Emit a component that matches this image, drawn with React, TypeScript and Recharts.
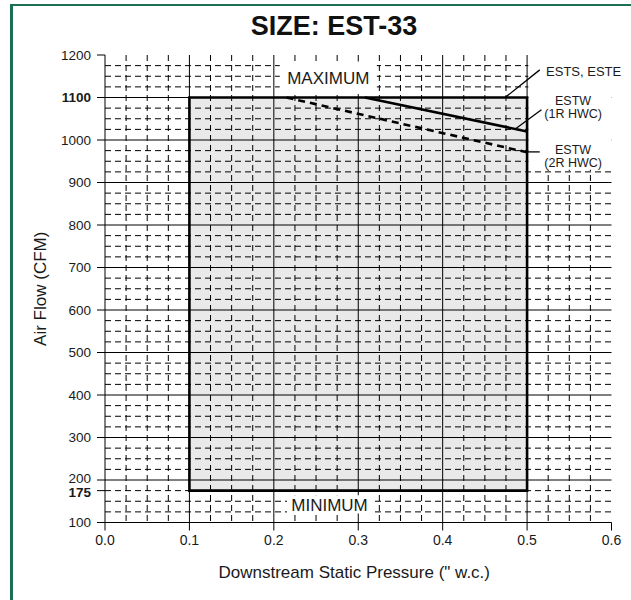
import { LineChart, Line, XAxis, YAxis, CartesianGrid, ReferenceArea, ReferenceLine, ReferenceDot } from 'recharts'

// axis ticks
const pressureTicks = [0, 0.1, 0.2, 0.3, 0.4, 0.5, 0.6]
const flowTicks = [100, 175, 200, 300, 400, 500, 600, 700, 800, 900, 1000, 1100, 1200]
const boldFlowTicks = [175, 1100]

// solid grid every 0.1 / 100, dashed grid every 0.025 / 25
const majorPressure = [0.1, 0.2, 0.3, 0.4, 0.5]
const majorFlow = [200, 300, 400, 500, 600, 700, 800, 900, 1000, 1100]
const minorPressure = [0, 0.1, 0.2, 0.3, 0.4, 0.5].flatMap(b => [b + 0.025, b + 0.05, b + 0.075])
const minorFlow = [100, 200, 300, 400, 500, 600, 700, 800, 900, 1000, 1100].flatMap(b => [b + 25, b + 50, b + 75])

// operating envelope
const pressureMin = 0.1
const pressureMax = 0.5
const flowMin = 175
const flowMax = 1100

// ESTW maximum curves
const estw1R = [
  { p: 0.308, cfm: 1100 },
  { p: 0.5, cfm: 1020 },
]
const estw2R = [
  { p: 0.215, cfm: 1100 },
  { p: 0.5, cfm: 971 },
]

// callout leaders [from, to]
const leaderEsts = [{ x: 0.474, y: 1100 }, { x: 0.515, y: 1165 }]
const leader1R = [{ x: 0.486, y: 1026 }, { x: 0.517, y: 1071 }]
const leader2R = [{ x: 0.499, y: 972 }, { x: 0.515, y: 972 }]

const FONT = '"Liberation Sans", Arial, Helvetica, sans-serif'
const INK = '#1a1a1a'

function FlowTick(props: any) {
  const { x, y, payload } = props
  const bold = boldFlowTicks.includes(payload.value)
  // 200 and 175 sit close together, nudge them apart a little
  const nudge = payload.value === 200 ? -1.5 : payload.value === 175 ? 1.5 : 0
  return (
    <text x={x} y={y + nudge} dy={4.6} textAnchor="end" fontSize={13.5} fontFamily={FONT}
      fontWeight={bold ? 'bold' : 'normal'} fill={INK}>
      {payload.value}
    </text>
  )
}

function note(text: string, anchor: 'start' | 'middle' = 'middle', size = 12.5) {
  return (p: any) => {
    const vb = p.viewBox
    return (
      <text x={vb.x + (vb.width || 0) / 2} y={vb.y + (vb.height || 0) / 2} dy="0.36em"
        textAnchor={anchor} fontSize={size} fontFamily={FONT} fill={INK}>
        {text}
      </text>
    )
  }
}

export default function App() {
  return (
    <div style={{
      position: 'fixed', left: 0, top: 0, width: 631, height: 600,
      overflow: 'hidden', background: '#fff', fontFamily: FONT,
    }}>
      <div style={{
        position: 'absolute', left: 10, top: 4, width: 700, height: 700,
        borderLeft: '3px solid #1b6f55', borderTop: '2px solid #1b6f55',
      }} />
      <div style={{
        position: 'absolute', left: 0, top: 11, width: 668, textAlign: 'center',
        fontSize: 27, fontWeight: 'bold', color: '#111',
      }}>
        SIZE: EST-33
      </div>
      <div style={{ position: 'absolute', left: 0, top: 0 }}>
        <LineChart width={631} height={600} margin={{ top: 55, right: 19.5, bottom: 47.5, left: 25 }}>
          <CartesianGrid horizontalValues={minorFlow} verticalValues={minorPressure}
            stroke="#000" strokeWidth={1} strokeDasharray="6 4" />
          <CartesianGrid horizontalValues={majorFlow} verticalValues={majorPressure}
            stroke="#000" strokeWidth={1} />
          <XAxis type="number" dataKey="p" domain={[0, 0.6]} ticks={pressureTicks}
            allowDataOverflow interval={0} height={30} tickSize={8} tickMargin={5}
            tickFormatter={(v: number) => v.toFixed(1)}
            tick={{ fontSize: 14, fill: INK, fontFamily: FONT }}
            axisLine={{ stroke: '#000' }} tickLine={{ stroke: '#000' }}
            label={{
              content: (p: any) => {
                const vb = p.viewBox
                return (
                  <text x={vb.x + vb.width / 2 - 4} y={vb.y + 49} dy="0.36em" textAnchor="middle"
                    fontSize={17} fontFamily={FONT} fill={INK}>
                    Downstream Static Pressure (" w.c.)
                  </text>
                )
              },
            }}
          />
          <YAxis type="number" dataKey="cfm" domain={[100, 1200]} ticks={flowTicks}
            allowDataOverflow interval={0} width={80} tickSize={8} tickMargin={6}
            tick={<FlowTick />}
            axisLine={{ stroke: '#000' }} tickLine={{ stroke: '#000' }}
            label={{
              content: (p: any) => {
                const vb = p.viewBox
                const cx = vb.x + 15
                const cy = vb.y + vb.height / 2
                return (
                  <text x={cx} y={cy} dy="0.36em" textAnchor="middle" fontSize={17}
                    fontFamily={FONT} fill={INK} transform={`rotate(-90 ${cx} ${cy})`}>
                    Air Flow (CFM)
                  </text>
                )
              },
            }}
          />

          {/* blank space for the callouts right of the envelope */}
          <ReferenceArea x1={0.5015} x2={0.6} y1={930} y2={1200} fill="#fff" fillOpacity={1}
            stroke="none" />

          <ReferenceArea x1={pressureMin} x2={pressureMax} y1={flowMin} y2={flowMax}
            fill="#000" fillOpacity={0.085} stroke="#000" strokeWidth={2.6} />

          <ReferenceArea x1={0.207} x2={0.322} y1={1108} y2={1185} fill="#fff" fillOpacity={1}
            stroke="none" label={note('MAXIMUM', 'middle', 17)} />
          <ReferenceArea x1={0.2156} x2={0.3164} y1={121} y2={164} fill="#fff" fillOpacity={1}
            stroke="none" label={note('MINIMUM', 'middle', 17)} />

          <ReferenceLine segment={leaderEsts} stroke="#000" strokeWidth={1.3} />
          <ReferenceLine segment={leader1R} stroke="#000" strokeWidth={1.3} />
          <ReferenceLine segment={leader2R} stroke="#000" strokeWidth={1.3} />

          <Line data={estw1R} dataKey="cfm" type="linear" stroke="#000" strokeWidth={2.6}
            dot={false} activeDot={false} isAnimationActive={false} />
          <Line data={estw2R} dataKey="cfm" type="linear" stroke="#000" strokeWidth={2.6}
            strokeDasharray="7 5" dot={false} activeDot={false} isAnimationActive={false} />

          <ReferenceDot x={0.5225} y={1161} r={0} fill="none" stroke="none" label={note('ESTS, ESTE', 'start', 13)} />
          <ReferenceDot x={0.5545} y={1092} r={0} fill="none" stroke="none" label={note('ESTW')} />
          <ReferenceDot x={0.5545} y={1062} r={0} fill="none" stroke="none" label={note('(1R HWC)')} />
          <ReferenceDot x={0.5545} y={978} r={0} fill="none" stroke="none" label={note('ESTW')} />
          <ReferenceDot x={0.5545} y={948} r={0} fill="none" stroke="none" label={note('(2R HWC)')} />
        </LineChart>
      </div>
    </div>
  )
}
